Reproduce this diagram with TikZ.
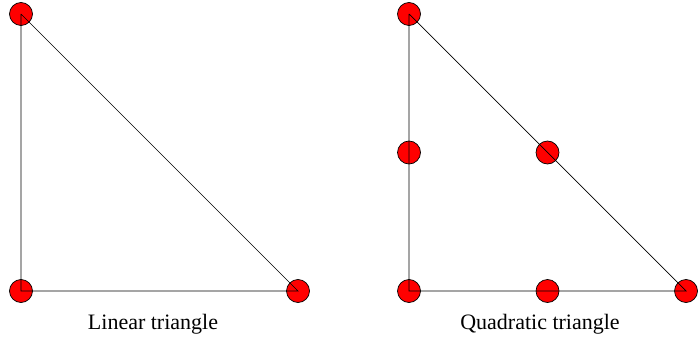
\documentclass[tikz,border=0pt]{standalone}
\usepackage{fontspec}
\setmainfont{Liberation Serif}
\usetikzlibrary{positioning}

\begin{document}
\begin{tikzpicture}[x=1pt, y=-1pt,
  dof/.style={draw, circle, fill=red, minimum size=23pt, inner sep=0pt, line width=0.7pt},
  edge/.style={line width=0.7pt},
  caption/.style={font=\fontsize{22}{26}\selectfont}]
  \useasboundingbox (0,0) rectangle (698,342);

  % Linear triangle
  \node[dof] (l1) at (21,14) {};
  \node[dof] (l2) at (21,291) {};
  \node[dof] (l3) at (298,291) {};

  \draw[edge] (l1.center) -- (l2.center) -- (l3.center) -- (l1.center);

  % Quadratic triangle
  \node[dof] (q1) at (409,14) {};
  \node[dof] (q2) at (409,291) {};
  \node[dof] (q3) at (686,291) {};
  \node[dof] (q4) at (409,152.5) {};
  \node[dof] (q5) at (547.5,291) {};
  \node[dof] (q6) at (547.5,152.5) {};

  \draw[edge] (q1.center) -- (q2.center) -- (q3.center) -- (q1.center);

  % Captions
  \node[caption] (cl) at (153,324) {Linear triangle};
  \node[caption] (cq) at (540,324) {Quadratic triangle};
\end{tikzpicture}
\end{document}
